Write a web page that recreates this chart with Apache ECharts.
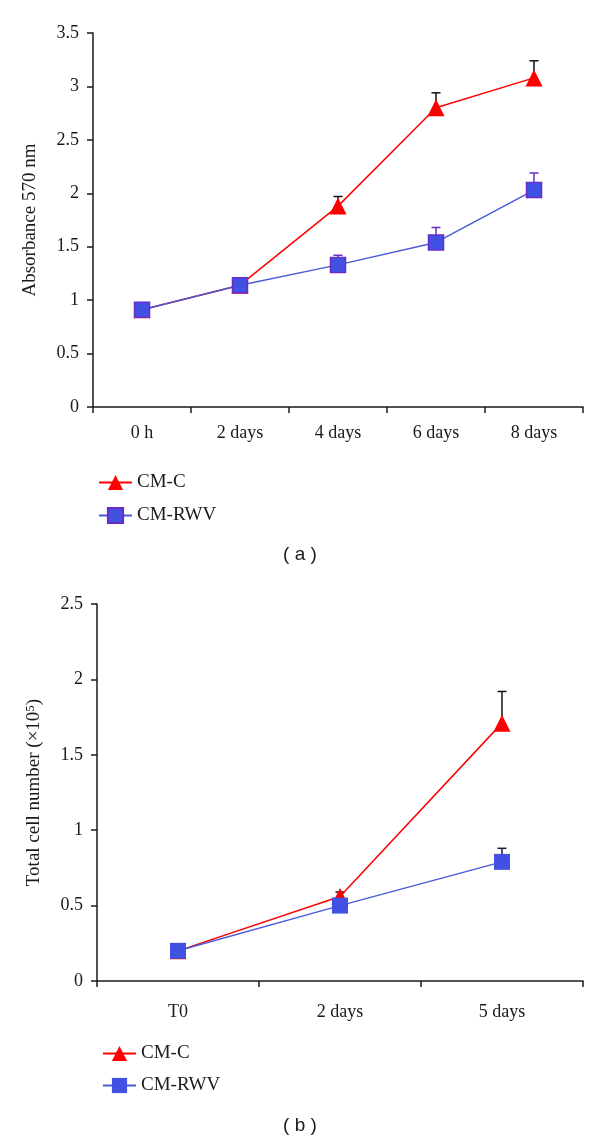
<!DOCTYPE html>
<html><head><meta charset="utf-8">
<script src="https://cdn.jsdelivr.net/npm/echarts@6/dist/echarts.min.js"></script>
<style>html,body{margin:0;padding:0;background:#fff}#c{width:600px;height:1143px}</style>
</head><body><div id="c"></div>
<script>
// Panel (a)
const catsA = ['0 h', '2 days', '4 days', '6 days', '8 days'];
const cmC_A = [0.91, 1.14, 1.88, 2.80, 3.08];
const cmC_A_err = [0.02, 0.05, 0.09, 0.14, 0.16];
const rwv_A = [0.91, 1.14, 1.33, 1.54, 2.03];
const rwv_A_err = [0.02, 0.03, 0.09, 0.14, 0.16];
const yTicksA = {min: 0, max: 3.5, interval: 0.5};
// Panel (b)
const catsB = ['T0', '2 days', '5 days'];
const cmC_B = [0.20, 0.56, 1.71];
const cmC_B_err = [0.03, 0.03, 0.21];
const rwv_B = [0.20, 0.50, 0.79];
const rwv_B_err = [0.02, 0.02, 0.09];
const yTicksB = {min: 0, max: 2.5, interval: 0.5};

const SERIF = '"Liberation Serif", "DejaVu Serif", serif';
const RED = '#ff0000', BLUE = '#4152e3', BLUE_LINE = '#4a5ad8', PURPLE = '#6a2bc8';

function errData(vals, errs) { return vals.map((v, i) => [i, v, errs[i]]); }
function errSeries(name, xi, vals, errs, color) {
  return {
    type: 'custom', name: name, xAxisIndex: xi, yAxisIndex: xi, z: 1, silent: true,
    data: errData(vals, errs),
    renderItem: function (params, api) {
      const p0 = api.coord([api.value(0), api.value(1)]);
      const p1 = api.coord([api.value(0), api.value(1) + api.value(2)]);
      const st = {stroke: color, lineWidth: 1.5};
      return {type: 'group', children: [
        {type: 'line', shape: {x1: p0[0], y1: p0[1], x2: p1[0], y2: p1[1]}, style: st},
        {type: 'line', shape: {x1: p1[0] - 4.5, y1: p1[1], x2: p1[0] + 4.5, y2: p1[1]}, style: st}
      ]};
    }
  };
}
const axisLine = {show: true, lineStyle: {color: '#1a1a1a', width: 1.5}};
const axisTick = {show: true, length: 6, lineStyle: {color: '#1a1a1a', width: 1.5}};
const labelStyle = {color: '#1a1a1a', fontFamily: SERIF, fontSize: 18};
const nameStyle = {color: '#1a1a1a', fontFamily: SERIF, fontSize: 19};
const legendText = {fontFamily: SERIF, fontSize: 19, color: '#1a1a1a', padding: [0, 0, 0, 0]};

const option = {
  animation: false,
  backgroundColor: '#fff',
  grid: [
    {left: 93, right: 17, top: 33, bottom: 736, containLabel: false},
    {left: 97, right: 17, top: 604, bottom: 162, containLabel: false}
  ],
  xAxis: [
    {type: 'category', gridIndex: 0, data: catsA, boundaryGap: true, axisLine, axisTick,
      axisLabel: Object.assign({margin: 17}, labelStyle), splitLine: {show: false}},
    {type: 'category', gridIndex: 1, data: catsB, boundaryGap: true, axisLine, axisTick,
      axisLabel: Object.assign({margin: 22}, labelStyle), splitLine: {show: false}}
  ],
  yAxis: [
    {type: 'value', gridIndex: 0, min: yTicksA.min, max: yTicksA.max, interval: yTicksA.interval,
      name: 'Absorbance 570 nm', nameLocation: 'middle', nameGap: 53, nameRotate: 90,
      nameTextStyle: nameStyle,
      axisLine, axisTick, axisLabel: Object.assign({margin: 14}, labelStyle), splitLine: {show: false}},
    {type: 'value', gridIndex: 1, min: yTicksB.min, max: yTicksB.max, interval: yTicksB.interval,
      name: 'Total cell number (×10{sup|5})', nameLocation: 'middle', nameGap: 52, nameRotate: 90,
      nameTextStyle: Object.assign({
        rich: {sup: {fontFamily: SERIF, fontSize: 13, verticalAlign: 'top', padding: [0, 0, 8, 0], color: '#1a1a1a'}}}, nameStyle),
      axisLine, axisTick, axisLabel: Object.assign({margin: 14}, labelStyle), splitLine: {show: false}}
  ],
  legend: [
    {orient: 'vertical', left: 93, top: 468, itemWidth: 33, itemHeight: 19, itemGap: 14,
      data: ['CM-C', 'CM-RWV'], selectedMode: false, textStyle: legendText},
    {orient: 'vertical', left: 97, top: 1039, itemWidth: 33, itemHeight: 19, itemGap: 13,
      data: ['CM-C (b)', 'CM-RWV (b)'], selectedMode: false,
      formatter: n => n.replace(' (b)', ''), textStyle: legendText}
  ],
  graphic: [
    {type: 'text', left: 'center', top: 545, style: {text: '( a )', font: '19px "Liberation Sans", Arial, sans-serif', fill: '#1a1a1a'}},
    {type: 'text', left: 'center', top: 1116, style: {text: '( b )', font: '19px "Liberation Sans", Arial, sans-serif', fill: '#1a1a1a'}}
  ],
  series: [
    errSeries('errCa', 0, cmC_A, cmC_A_err, '#111'),
    errSeries('errRa', 0, rwv_A, rwv_A_err, PURPLE),
    {name: 'CM-C', type: 'line', xAxisIndex: 0, yAxisIndex: 0, data: cmC_A, z: 3,
      symbol: 'triangle', symbolSize: 17, itemStyle: {color: RED}, lineStyle: {color: RED, width: 1.5}},
    {name: 'CM-RWV', type: 'line', xAxisIndex: 0, yAxisIndex: 0, data: rwv_A, z: 4,
      symbol: 'rect', symbolSize: 15, itemStyle: {color: BLUE, borderColor: PURPLE, borderWidth: 1.5},
      lineStyle: {color: BLUE_LINE, width: 1.5}},
    errSeries('errCb', 1, cmC_B, cmC_B_err, '#111'),
    errSeries('errRb', 1, rwv_B, rwv_B_err, '#1a1a40'),
    {name: 'CM-C (b)', type: 'line', xAxisIndex: 1, yAxisIndex: 1, data: cmC_B, z: 3,
      symbol: 'triangle', symbolSize: 17, itemStyle: {color: RED}, lineStyle: {color: RED, width: 1.5}},
    {name: 'CM-RWV (b)', type: 'line', xAxisIndex: 1, yAxisIndex: 1, data: rwv_B, z: 4,
      symbol: 'rect', symbolSize: 16, itemStyle: {color: BLUE},
      lineStyle: {color: BLUE_LINE, width: 1.5}}
  ]
};
echarts.init(document.getElementById('c')).setOption(option);
</script></body></html>
